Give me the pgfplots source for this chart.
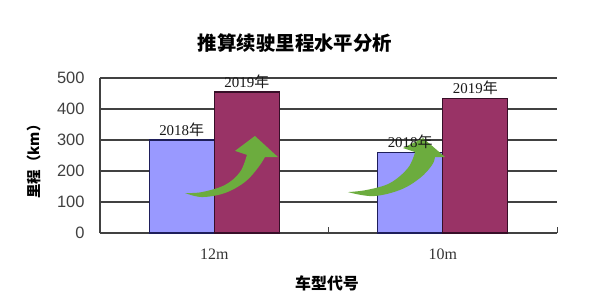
\documentclass[border=0pt]{standalone}
\usepackage{fontspec}
\setmainfont{Liberation Serif}
\setsansfont{Liberation Sans}
\newfontfamily\cjk{Noto Sans CJK SC}
\usepackage{pgfplots}
\pgfplotsset{compat=1.18}

\definecolor{barblue}{RGB}{153,153,255}
\definecolor{barblueedge}{RGB}{30,30,90}
\definecolor{barred}{RGB}{153,51,102}
\definecolor{barrededge}{RGB}{55,15,40}
\definecolor{arrowgreen}{RGB}{108,172,62}
\definecolor{gridgray}{RGB}{65,65,65}

\begin{document}
\begin{tikzpicture}
\begin{axis}[
  scale only axis, width=457bp, height=155bp,
  xmin=-0.5, xmax=1.5, ymin=0, ymax=500,
  clip=false,
  axis lines*=left,
  axis line style={-, draw=gridgray, line width=1.1bp},
  ymajorgrids, grid style={draw=gridgray, line width=1.1bp},
  ytick={0,100,...,500},
  xtick={0,1}, xticklabels={12m,10m},
  major tick length=0pt,
  extra x ticks={-0.5,0.5,1.5}, extra x tick labels={},
  extra x tick style={major tick length=6bp, tick align=inside,
    tick style={draw=gridgray, line width=1bp}, grid=none},
  /pgf/number format/assume math mode=true,
  yticklabel style={font=\sffamily\fontsize{16.5}{18}\selectfont, text=black!75, xshift=-12bp},
  xticklabel style={font=\fontsize{16}{18}\selectfont, text=black!80, yshift=-12bp},
  ybar, bar width=0.285,
  every node near coord/.append style={font=\fontsize{15}{16}\selectfont,
    text=black!90, anchor=south, inner sep=1bp, yshift=2bp},
]
% 2018 and 2019 range per vehicle type
\addplot[fill=barblue, draw=barblueedge, line width=1.2bp, bar shift=-0.1425,
  nodes near coords={2018{\cjk 年}}] coordinates {(0,300) (1,260)};
\addplot[fill=barred, draw=barrededge, line width=1.2bp, bar shift=0.1425,
  nodes near coords={2019{\cjk 年}}] coordinates {(0,455) (1,435)};

% curved growth arrows
\fill[arrowgreen] plot[smooth, tension=0.6] coordinates {(-0.128,129) (-0.054,116) (0.047,129) (0.135,165) (0.191,210) (0.222,245)}
  -- (0.279,245) -- (0.178,313) -- (0.091,265)
  -- plot[smooth, tension=0.6] coordinates {(0.143,252) (0.113,197) (0.047,155) (-0.054,132) (-0.128,129)} -- cycle;
\fill[arrowgreen] plot[smooth, tension=0.6] coordinates {(0.585,132) (0.695,119) (0.813,139) (0.900,177) (0.953,219) (0.966,245)}
  -- (1.010,245) -- (0.914,306) -- (0.826,274)
  -- plot[smooth, tension=0.6] coordinates {(0.879,261) (0.848,210) (0.769,161) (0.668,139) (0.585,132)} -- cycle;

\coordinate (sw) at (rel axis cs:0,0);
\end{axis}

\node[font=\cjk\bfseries\fontsize{19.5}{20}\selectfont] at ([shift={(195bp,190bp)}]sw) {推算续驶里程水平分析};
\node[font=\cjk\bfseries\fontsize{16}{17}\selectfont] at ([shift={(227bp,-50bp)}]sw) {车型代号};
\node[font=\cjk\bfseries\fontsize{14.5}{16}\selectfont, rotate=90] at ([shift={(-66bp,75bp)}]sw) {里程（km）};

\pgfresetboundingbox
\path[use as bounding box] ([shift={(-100bp,-72bp)}]sw) rectangle ++(600bp,305bp);
\end{tikzpicture}
\end{document}
